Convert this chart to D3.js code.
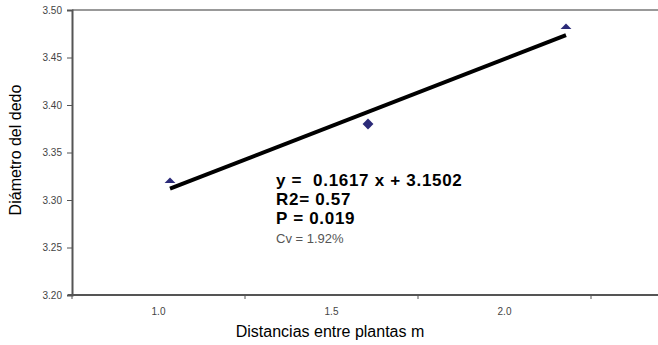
<!DOCTYPE html>
<html>
<head>
<meta charset="utf-8">
<script src="https://cdn.jsdelivr.net/npm/d3@7"></script>
<style>
  body { margin: 0; background: #fff; }
  svg { font-family: "Liberation Sans", Arial, sans-serif; }
  .axis text { fill: #444; font-size: 10px; }
</style>
</head>
<body>
<div id="chart"></div>
<script>
// data
const distances = [1.0, 1.5, 2.0];
const diameters = [3.318, 3.38, 3.48];
const xTickLabels = ["1.0", "1.5", "2.0"];
const yTicks = [3.20, 3.25, 3.30, 3.35, 3.40, 3.45, 3.50];
const slope = 0.1617, intercept = 3.1502;
const statsLines = ["y =  0.1617 x + 3.1502", "R2= 0.57", "P = 0.019"];
const cvText = "Cv = 1.92%";

const W = 658, H = 345;
const margin = { top: 10, right: 0, bottom: 50, left: 72 };

const svg = d3.select("#chart").append("svg")
    .attr("width", W)
    .attr("height", H);

// scales
const y = d3.scaleLinear().domain([3.20, 3.50]).range([295, 10]);
const x = d3.scaleLinear().domain([0.7525, 2.4]).range([margin.left, margin.left + (2.4 - 0.7525) * 396]);
const xBand = d3.scaleBand().domain(xTickLabels).range([margin.left, 591]);

// top border
svg.append("line")
    .attr("x1", margin.left).attr("x2", W)
    .attr("y1", y(3.50)).attr("y2", y(3.50))
    .attr("stroke", "#999").attr("stroke-width", 2);

// y axis
const yAxis = svg.append("g")
    .attr("class", "axis")
    .attr("transform", `translate(${margin.left},0)`)
    .call(d3.axisLeft(y).tickValues(yTicks).tickFormat(d3.format(".2f")).tickSize(5).tickPadding(5));
yAxis.select(".domain").attr("stroke", "#555").attr("stroke-width", 2);
yAxis.selectAll(".tick line").attr("stroke", "#555");

// x axis - labels centred in category slots, tick marks on slot edges
const xAxis = svg.append("g")
    .attr("class", "axis")
    .attr("transform", `translate(0,${y(3.20)})`)
    .call(d3.axisBottom(xBand).tickSize(0).tickPadding(13));
xAxis.select(".domain").remove();
xAxis.append("line")
    .attr("x1", margin.left - 4).attr("x2", W)
    .attr("stroke", "#555").attr("stroke-width", 2);
const edges = xTickLabels.map(d => xBand(d)).concat([xBand(xTickLabels[2]) + xBand.bandwidth()]);
xAxis.selectAll(".edge")
    .data(edges)
    .enter().append("line")
    .attr("x1", d => d).attr("x2", d => d)
    .attr("y1", 0).attr("y2", 4)
    .attr("stroke", "#555");

// the end markers only show their upper half in the original
const defs = svg.append("defs");
distances.forEach((d, i) => {
    const half = i !== 1;
    defs.append("clipPath").attr("id", "clip" + i)
        .append("rect")
        .attr("x", x(d) - 10).attr("y", y(diameters[i]) - 10)
        .attr("width", 20).attr("height", half ? 10 : 20);
});

// points
svg.selectAll(".pt")
    .data(distances)
    .enter().append("g")
    .attr("clip-path", (d, i) => `url(#clip${i})`)
    .append("path")
    .attr("class", "pt")
    .attr("transform", (d, i) => `translate(${x(d)},${y(diameters[i])})`)
    .attr("d", d3.symbol().type(d3.symbolDiamond2).size(75))
    .attr("fill", "#2b2a78");

// regression line
const lineGen = d3.line().x(d => x(d)).y(d => y(slope * d + intercept));
const ends = [distances[0], distances[distances.length - 1]];
svg.append("path")
    .datum(ends)
    .attr("d", lineGen)
    .attr("stroke", "#000").attr("stroke-width", 4).attr("fill", "none");

// stats text
const statY = [186, 205, 224];
svg.selectAll(".stat")
    .data(statsLines)
    .enter().append("text")
    .attr("class", "stat")
    .attr("x", 276)
    .attr("y", (d, i) => statY[i])
    .attr("font-size", "17px")
    .attr("font-weight", "bold")
    .attr("letter-spacing", "0.7px")
    .attr("xml:space", "preserve")
    .style("white-space", "pre")
    .text(d => d);
svg.append("text")
    .attr("x", 276).attr("y", 243)
    .attr("font-size", "13px")
    .attr("fill", "#555")
    .text(cvText);

// axis titles
svg.append("text")
    .attr("x", 330).attr("y", 337)
    .attr("text-anchor", "middle")
    .attr("font-size", "16px")
    .text("Distancias entre plantas m");
svg.append("text")
    .attr("transform", "rotate(-90)")
    .attr("x", -150).attr("y", 21)
    .attr("text-anchor", "middle")
    .attr("font-size", "16px")
    .text("Diámetro del dedo");
</script>
</body>
</html>
